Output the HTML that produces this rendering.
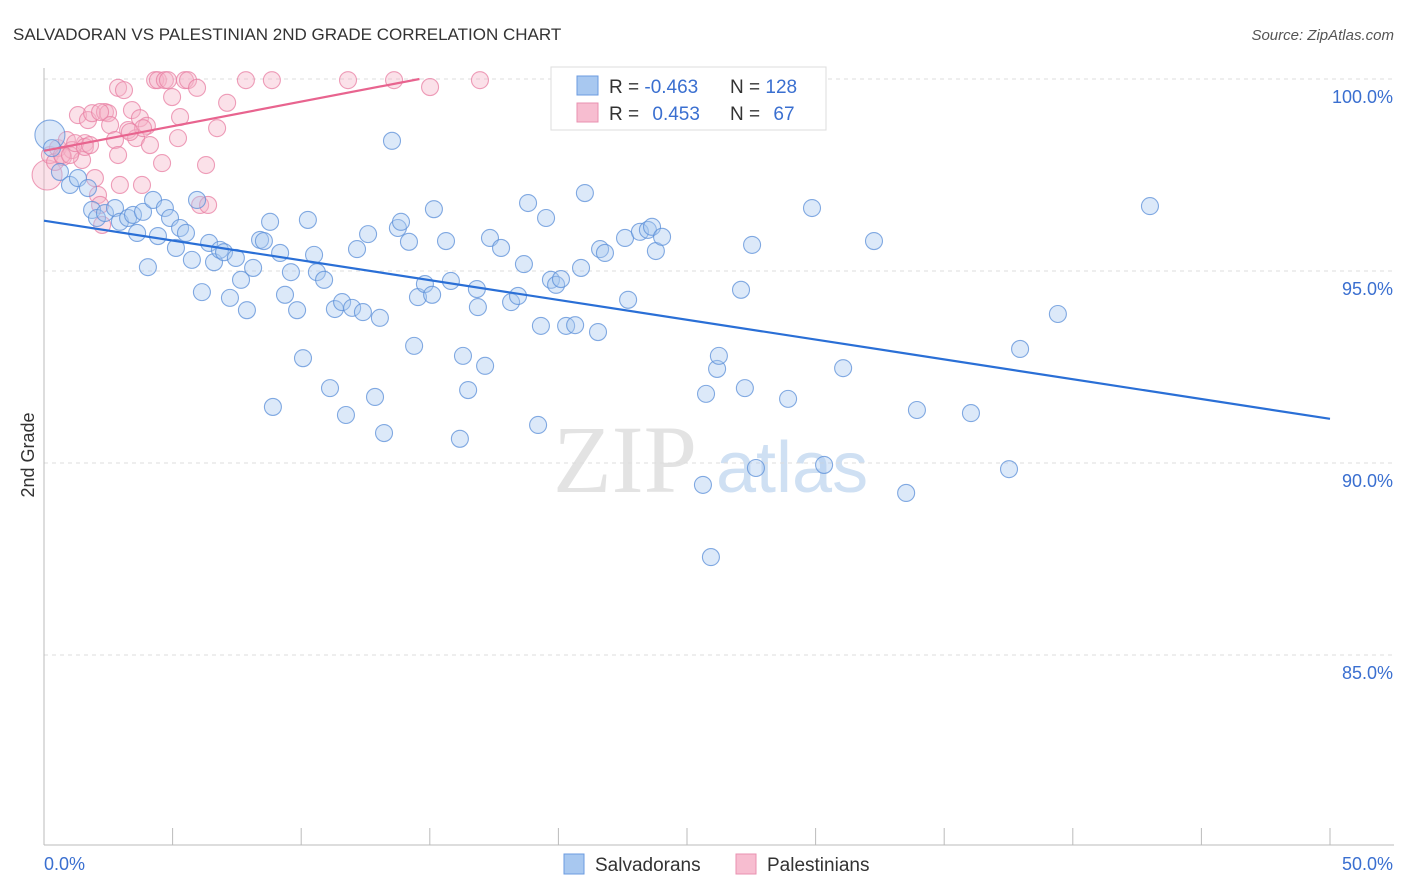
<!DOCTYPE html>
<html><head><meta charset="utf-8">
<style>
body{margin:0;background:#fff;font-family:"Liberation Sans",sans-serif;}
svg{display:block}
</style></head>
<body>
<svg id="chart" width="1406" height="892">
<text x="13" y="40" font-size="17" fill="#333">SALVADORAN VS PALESTINIAN 2ND GRADE CORRELATION CHART</text>
<text x="1394" y="40" font-size="15" fill="#555" text-anchor="end" font-style="italic">Source: ZipAtlas.com</text>
<text transform="translate(34,455) rotate(-90)" font-size="18" fill="#333" text-anchor="middle">2nd Grade</text>
<g>
<text x="553" y="492" font-size="96" font-family="Liberation Serif,serif" fill="#e3e3e3">ZIP</text>
<text x="716" y="492" font-size="72" fill="#cfe0f3">atlas</text>
</g>
<g id="grid"></g><g id="axes"></g><g id="pts"></g><g id="lines"></g>
<g>
<rect x="551" y="67" width="275" height="63" fill="#fff" stroke="#ddd"/>
<rect x="577" y="76" width="21" height="19" fill="#a8c8f0" stroke="#6b9be0"/>
<rect x="577" y="103" width="21" height="19" fill="#f7bdd0" stroke="#e991b0"/>
<text x="609" y="93" font-size="19" fill="#333">R = <tspan fill="#3a6fd0">-0.463</tspan></text>
<text x="730" y="93" font-size="19" fill="#333">N = <tspan fill="#3a6fd0">128</tspan></text>
<text x="609" y="120" font-size="19" fill="#333">R = <tspan fill="#3a6fd0" dx="8">0.453</tspan></text>
<text x="730" y="120" font-size="19" fill="#333">N = <tspan fill="#3a6fd0" dx="8">67</tspan></text>
</g>
<g>
<rect x="564" y="854" width="20" height="20" fill="#a8c8f0" stroke="#6b9be0"/>
<text x="595" y="871" font-size="19" fill="#333">Salvadorans</text>
<rect x="736" y="854" width="20" height="20" fill="#f7bdd0" stroke="#e991b0"/>
<text x="767" y="871" font-size="19" fill="#333">Palestinians</text>
</g>
</svg>
<script>
const yTicks=[100,95,90,85];
const yTickLabels=["100.0%","95.0%","90.0%","85.0%"];
const xTicks=[0,5,10,15,20,25,30,35,40,45,50];
const blueX=[0.23,0.31,0.62,1.01,1.32,1.71,1.87,2.06,2.37,2.76,2.95,3.27,3.46,3.62,3.85,4.04,4.24,4.43,4.70,4.90,5.13,5.29,5.52,5.75,5.95,6.14,6.42,6.61,6.84,7.00,7.23,7.46,7.66,7.89,8.13,8.40,8.55,8.79,8.90,9.18,9.37,9.60,9.84,10.07,10.26,10.50,10.61,10.89,11.12,11.31,11.59,11.74,11.98,12.17,12.40,12.60,12.87,13.06,13.22,13.53,13.76,13.88,14.19,14.39,14.54,14.81,15.09,15.16,15.63,15.82,16.17,16.29,16.49,16.83,16.87,17.15,17.34,17.77,18.16,18.43,18.66,18.82,19.21,19.32,19.52,19.71,19.91,20.10,20.30,20.65,20.88,21.03,21.54,21.62,21.81,22.59,22.71,23.17,23.48,23.64,23.79,24.03,24.92,25.62,25.74,25.93,26.17,26.24,27.10,27.25,27.53,27.68,28.93,29.86,30.33,31.07,32.27,33.52,33.94,36.04,37.52,37.95,39.42,43.00];
const blueY=[98.54,98.20,97.58,97.24,97.42,97.16,96.59,96.38,96.51,96.64,96.28,96.38,96.46,95.99,96.54,95.10,96.85,95.91,96.64,96.38,95.60,96.12,95.99,95.29,96.85,94.45,95.73,95.23,95.55,95.49,94.30,95.34,94.77,93.98,95.08,95.81,95.78,96.28,91.46,95.47,94.38,94.97,93.98,92.73,96.33,95.42,94.97,94.77,91.95,94.01,94.19,91.25,94.04,95.57,93.93,95.96,91.72,93.78,90.78,98.39,96.12,96.28,95.76,93.05,94.32,94.66,94.38,96.61,95.78,94.74,90.63,92.79,91.90,94.53,94.06,92.53,95.86,95.60,94.19,94.35,95.18,96.77,90.99,93.57,96.38,94.77,94.64,94.79,93.57,93.59,95.08,97.03,93.41,95.57,95.47,95.86,94.25,96.02,96.07,96.15,95.52,95.89,99.97,89.43,91.80,87.55,92.45,92.79,94.51,91.95,95.68,89.87,91.67,96.64,89.95,92.47,95.78,89.22,91.38,91.30,89.84,92.97,93.88,96.69];
const pinkX=[0.12,0.23,0.43,0.54,0.74,0.89,1.09,1.32,1.48,1.59,1.71,1.87,1.98,2.10,2.18,2.26,2.37,2.49,2.57,2.76,2.88,2.95,3.11,3.27,3.42,3.58,3.73,3.81,4.00,4.12,4.32,4.43,4.59,4.70,4.82,4.98,5.21,5.29,5.48,5.60,5.95,6.07,6.30,6.38,6.73,7.12,7.85,8.86,11.82,13.61,15.01,16.95,0.70,1.01,1.21,1.59,2.18,3.85,3.34,2.88,1.79];
const pinkY=[97.50,98.02,97.84,98.20,97.97,98.41,98.15,99.06,97.89,98.33,98.93,99.11,97.42,96.98,96.72,96.20,99.14,99.11,98.80,98.41,99.77,97.24,99.71,98.67,99.19,98.46,98.98,97.24,98.78,98.28,99.97,99.97,97.81,99.97,99.97,99.53,98.46,99.01,99.97,99.97,99.77,96.72,97.76,96.72,98.72,99.38,99.97,99.97,99.97,99.97,99.79,99.97,98.02,98.02,98.33,98.23,99.14,98.72,98.62,98.02,98.28];
const blueBigIdx=[0];
const pinkBigIdx=[0];
const blueTrend=[96.31,91.15];
const pinkTrend=[98.13,100.0,14.6];
const NS="http://www.w3.org/2000/svg";
const X=v=>44+v/50*1286;
const Y=v=>79+(100-v)/5*192;
function mk(tag,attrs,parent){const e=document.createElementNS(NS,tag);for(const k in attrs)e.setAttribute(k,attrs[k]);parent.appendChild(e);return e;}
const grid=document.getElementById('grid'),axes=document.getElementById('axes'),pts=document.getElementById('pts'),lines=document.getElementById('lines');
yTicks.forEach((t,i)=>{
 const l=mk('line',{x1:44,x2:1394,y1:Y(t),y2:Y(t),stroke:'#ddd','stroke-dasharray':'4,4'},grid);
 
 
 const tx=mk('text',{x:1393,y:Y(t)+24,'font-size':18,fill:'#3a6fd0','text-anchor':'end'},axes);
 tx.textContent=yTickLabels[i];
 
 
});
const ax=mk('line',{x1:44,x2:44,y1:68,y2:845,stroke:'#bbb'},axes);


const bx=mk('line',{x1:44,x2:1394,y1:845,y2:845,stroke:'#bbb'},axes);


xTicks.forEach(t=>{
 const l=mk('line',{x1:X(t),x2:X(t),y1:828,y2:845,stroke:'#bbb'},axes);
 
 
});
const xl0=mk('text',{x:44,y:870,'font-size':18,fill:'#3a6fd0'},axes);xl0.textContent=xTicks[0].toFixed(1)+'%';


const xl1=mk('text',{x:1393,y:870,'font-size':18,fill:'#3a6fd0','text-anchor':'end'},axes);xl1.textContent=xTicks[xTicks.length-1].toFixed(1)+'%';


function drawPts(xs,ys,big,fill,stroke,name){
 xs.forEach((v,i)=>{
  const c=mk('circle',{cx:X(v),cy:Y(ys[i]),r:big.includes(i)?15:8.5,fill:fill,'fill-opacity':0.4,stroke:stroke,'stroke-width':1.1,'stroke-opacity':0.75},pts);
  
  
 });
}
drawPts(pinkX,pinkY,pinkBigIdx,'#f5b3c8','#e87fa3','palestinian-point');
drawPts(blueX,blueY,blueBigIdx,'#a8c8f0','#5b8fd8','salvadoran-point');
const bl=mk('line',{x1:X(0),y1:Y(blueTrend[0]),x2:X(50),y2:Y(blueTrend[1]),stroke:'#2a6fd6','stroke-width':2.2},lines);


const pl=mk('line',{x1:X(0),y1:Y(pinkTrend[0]),x2:X(pinkTrend[2]),y2:Y(pinkTrend[1]),stroke:'#e8648f','stroke-width':2.2},lines);


</script>
</body></html>
